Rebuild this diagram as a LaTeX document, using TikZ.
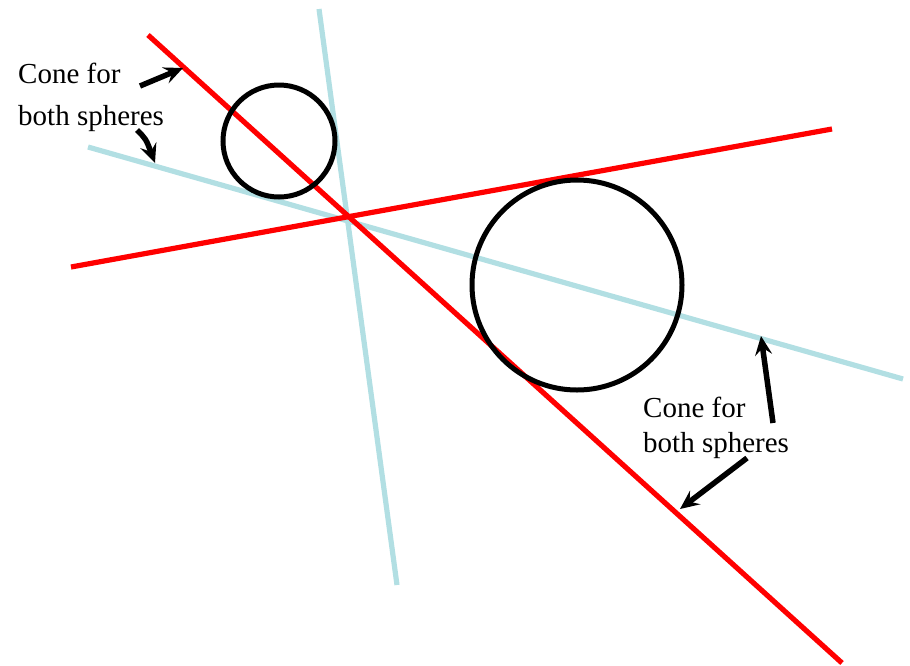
\documentclass[tikz,border=0pt]{standalone}
\usepackage{fontspec}
\setmainfont{Liberation Serif}
\usetikzlibrary{arrows.meta}
\definecolor{conered}{RGB}{255,0,0}
\definecolor{coneblue}{RGB}{178,223,227}
\tikzset{
  redline/.style={draw=conered,line width=5.2pt},
  blueline/.style={draw=coneblue,line width=5.2pt},
  sphere/.style={draw=black,line width=5pt},
  pointer/.style={draw=black,line width=5.5pt,-{Stealth[length=19pt,width=17pt,inset=7pt]}},
  lbl/.style={anchor=base west,inner sep=0pt,font=\fontsize{29}{34}\selectfont}
}
\begin{document}
\begin{tikzpicture}[x=1pt,y=-1pt]
\useasboundingbox (0,0) rectangle (910,665);
% lines
\coordinate (r1a) at (148,35);
\coordinate (r1b) at (842,663);
\coordinate (r2a) at (71,267);
\coordinate (r2b) at (832,129);
\coordinate (b1a) at (319,9);
\coordinate (b1b) at (397,585);
\coordinate (b2a) at (88,147);
\coordinate (b2b) at (903,379);
\draw[blueline] (b1a) -- (b1b);
\draw[blueline] (b2a) -- (b2b);
\draw[redline] (r1a) -- (r1b);
\draw[redline] (r2a) -- (r2b);
% spheres
\node[sphere,circle,minimum size=112pt,inner sep=0pt] (small) at (279,141) {};
\node[sphere,circle,minimum size=210pt,inner sep=0pt] (big) at (577,285) {};
% labels
\node[lbl] (l1) at (18,83) {Cone for};
\node[lbl] (l2) at (18,125) {both spheres};
\node[lbl] (r1) at (643,417) {Cone for};
\node[lbl] (r2) at (643,452) {both spheres};
% arrow targets
\coordinate (t1) at (183,68);
\coordinate (t2) at (155,163);
\coordinate (t3) at (761,336);
\coordinate (t4) at (680,509);
\coordinate (s1) at (140,86);
\coordinate (s2) at (137,130);
\coordinate (s3) at (773,423);
\coordinate (s4) at (747,458);
\draw[pointer] (s1) -- (t1);
\draw[pointer] (s2) .. controls (146,139) .. (t2);
\draw[pointer] (s3) -- (t3);
\draw[pointer] (s4) -- (t4);
\end{tikzpicture}
\end{document}
